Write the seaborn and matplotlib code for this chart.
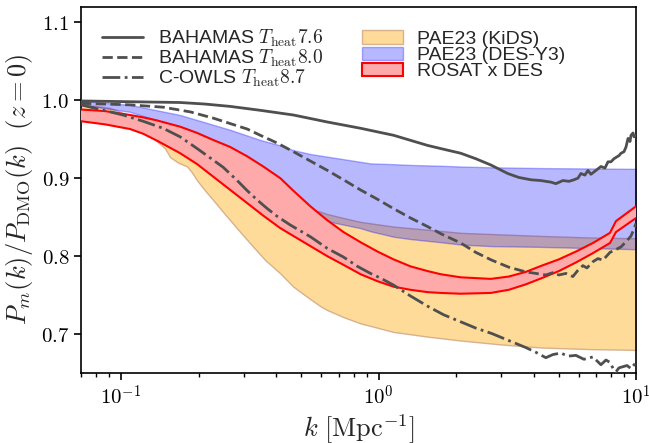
import numpy as np
import pandas as pd
import matplotlib
matplotlib.use("Agg")
import matplotlib.pyplot as plt
import seaborn as sns
from matplotlib.patches import Patch
from matplotlib.lines import Line2D
from matplotlib.ticker import FixedLocator, FixedFormatter, FuncFormatter, LogLocator, NullFormatter

# ---------------- data ----------------
# BAHAMAS T_heat 7.6 (solid)
k_b76 = [0.0699, 0.1084, 0.1697, 0.2122, 0.2655, 0.3474, 0.4669, 0.6331, 0.8511, 1.144,
         1.551, 1.743, 2.085, 2.385, 2.728, 3.177, 3.505, 3.904, 4.270, 4.670, 4.884,
         5.200, 5.487, 5.739, 5.947, 6.109, 6.331, 6.505, 6.682, 6.864, 7.114, 7.308,
         7.575, 7.783, 7.992, 8.212, 8.589, 8.745, 8.981, 9.144, 9.309, 9.478, 9.562,
         9.735, 9.822, 10.0]
p_b76 = [0.999, 0.998, 0.997, 0.995, 0.992, 0.987, 0.981, 0.972, 0.964, 0.955,
         0.942, 0.938, 0.932, 0.925, 0.917, 0.906, 0.901, 0.898, 0.897, 0.895, 0.893,
         0.897, 0.896, 0.898, 0.900, 0.906, 0.904, 0.910, 0.905, 0.908, 0.912, 0.915,
         0.913, 0.921, 0.921, 0.925, 0.929, 0.932, 0.934, 0.940, 0.951, 0.947, 0.955,
         0.958, 0.953, 0.955]

# BAHAMAS T_heat 8.0 (dashed)
k_b80 = [0.0699, 0.1084, 0.1457, 0.1856, 0.2280, 0.2655, 0.3092, 0.3474, 0.4045, 0.4669,
         0.5437, 0.6331, 0.7308, 0.8511, 0.9911, 1.144, 1.332, 1.551, 1.743, 2.085,
         2.385, 2.753, 3.205, 3.733, 4.082, 4.465, 4.753, 5.016, 5.341, 5.686, 5.947,
         6.219, 6.446, 6.803, 7.114, 7.437, 7.924, 8.285, 8.745, 9.226, 9.562, 9.822, 10.0]
p_b80 = [0.996, 0.994, 0.991, 0.985, 0.977, 0.970, 0.963, 0.955, 0.945, 0.934,
         0.922, 0.910, 0.898, 0.885, 0.873, 0.861, 0.849, 0.838, 0.829, 0.817,
         0.805, 0.795, 0.786, 0.780, 0.778, 0.776, 0.779, 0.776, 0.778, 0.774, 0.782,
         0.788, 0.785, 0.793, 0.797, 0.795, 0.805, 0.808, 0.812, 0.820, 0.826, 0.835, 0.842]

# C-OWLS T_heat 8.7 (dash-dot)
k_cow = [0.0699, 0.0829, 0.1018, 0.1218, 0.1457, 0.1697, 0.1975, 0.2220, 0.2493, 0.2827,
         0.3092, 0.3382, 0.3700, 0.4045, 0.4545, 0.5437, 0.6331, 0.7308, 0.8286, 0.9309,
         1.018, 1.144, 1.332, 1.551, 1.790, 2.085, 2.385, 2.753, 3.205, 3.733, 4.082,
         4.465, 4.753, 5.107, 5.437, 5.842, 6.276, 6.803, 7.308, 7.643, 7.924, 8.212,
         8.357, 8.589, 9.226, 9.562, 10.0]
p_cow = [0.994, 0.988, 0.981, 0.973, 0.964, 0.953, 0.938, 0.926, 0.914, 0.897,
         0.884, 0.872, 0.861, 0.851, 0.840, 0.825, 0.810, 0.799, 0.787, 0.778,
         0.772, 0.763, 0.749, 0.736, 0.725, 0.716, 0.708, 0.701, 0.692, 0.683, 0.677,
         0.670, 0.674, 0.676, 0.672, 0.673, 0.668, 0.671, 0.661, 0.667, 0.664, 0.654,
         0.652, 0.657, 0.660, 0.656, 0.664]

# PAE23 (KiDS) band
k_kids = [0.0699, 0.0906, 0.1186, 0.1381, 0.1483, 0.1551, 0.1666, 0.1806, 0.1889, 0.1975,
          0.2122, 0.2280, 0.2472, 0.2655, 0.2904, 0.3263, 0.3634, 0.4155, 0.4669, 0.5437,
          0.5946, 0.6331, 0.7308, 0.8511, 1.144, 1.332, 1.551, 2.085, 2.983, 4.308, 6.682, 10.0]
lo_kids = [0.985, 0.980, 0.968, 0.947, 0.938, 0.927, 0.920, 0.915, 0.907, 0.897,
           0.884, 0.872, 0.858, 0.846, 0.831, 0.812, 0.795, 0.778, 0.761, 0.745,
           0.736, 0.731, 0.722, 0.714, 0.703, 0.700, 0.697, 0.692, 0.687, 0.683, 0.681, 0.680]
hi_kids = [0.995, 0.990, 0.975, 0.966, 0.962, 0.958, 0.952, 0.946, 0.942, 0.936,
           0.928, 0.920, 0.912, 0.905, 0.893, 0.880, 0.876, 0.872, 0.866, 0.860,
           0.857, 0.854, 0.849, 0.844, 0.838, 0.836, 0.834, 0.830, 0.828, 0.826, 0.824, 0.823]

# PAE23 (DES-Y3) band
k_des = [0.0699, 0.1084, 0.1697, 0.2655, 0.3474, 0.4155, 0.4669, 0.5437, 0.6505, 0.8511,
         0.9309, 1.144, 1.332, 1.743, 2.085, 2.728, 4.270, 10.0]
lo_des = [0.994, 0.985, 0.965, 0.930, 0.900, 0.885, 0.875, 0.858, 0.844, 0.836,
          0.832, 0.825, 0.822, 0.818, 0.815, 0.813, 0.812, 0.809]
hi_des = [0.999, 0.994, 0.981, 0.962, 0.949, 0.942, 0.936, 0.931, 0.927, 0.921,
          0.919, 0.918, 0.917, 0.916, 0.915, 0.914, 0.913, 0.912]

# ROSAT x DES band
k_ros = [0.0699, 0.0866, 0.1084, 0.1218, 0.1381, 0.1697, 0.1975, 0.2280, 0.2655, 0.3092,
         0.3568, 0.4155, 0.4669, 0.5437, 0.6331, 0.7308, 0.8511, 0.9911, 1.144, 1.332,
         1.551, 1.743, 2.085, 2.728, 3.205, 3.733, 4.308, 5.016, 5.842, 6.803, 7.924,
         8.357, 10.0]
hi_ros = [0.988, 0.986, 0.981, 0.978, 0.974, 0.966, 0.958, 0.949, 0.940, 0.928,
          0.915, 0.900, 0.884, 0.864, 0.846, 0.831, 0.818, 0.806, 0.796, 0.787,
          0.781, 0.777, 0.773, 0.771, 0.774, 0.780, 0.788, 0.796, 0.806, 0.817, 0.830,
          0.845, 0.864]
lo_ros = [0.973, 0.969, 0.963, 0.957, 0.948, 0.932, 0.918, 0.902, 0.885, 0.868,
          0.852, 0.836, 0.826, 0.813, 0.800, 0.789, 0.777, 0.768, 0.761, 0.757,
          0.754, 0.753, 0.752, 0.753, 0.757, 0.764, 0.772, 0.781, 0.792, 0.804, 0.817,
          0.831, 0.849]

labels_lines = [r"BAHAMAS $T_{\rm heat}7.6$", r"BAHAMAS $T_{\rm heat}8.0$",
                r"C-OWLS $T_{\rm heat}8.7$"]
labels_bands = ["PAE23 (KiDS)", "PAE23 (DES-Y3)", "ROSAT x DES"]
yticks = [0.7, 0.8, 0.9, 1.0, 1.1]
xticks = [0.1, 1.0, 10.0]
xticklabels = [r"$10^{-1}$", r"$10^{0}$", r"$10^{1}$"]

# ---------------- style ----------------
sns.set_theme(style="ticks")
plt.rcParams["font.family"] = ["Liberation Sans", "DejaVu Sans"]
plt.rcParams["mathtext.fontset"] = "cm"
plt.rcParams["axes.edgecolor"] = "black"
plt.rcParams["axes.linewidth"] = 1.2
plt.rcParams["xtick.color"] = "black"
plt.rcParams["ytick.color"] = "black"

fig = plt.figure(figsize=(6.49, 4.43), dpi=100)
ax = fig.add_axes([0.1248, 0.1573, 0.980 - 0.1248, 0.9853 - 0.1573])

orange_face = (1.0, 0.647, 0.0, 0.4)
orange_edge = (0.78, 0.6, 0.45, 0.7)
blue_face = (0.0, 0.0, 1.0, 0.28)
blue_edge = (0.0, 0.0, 1.0, 0.3)
red_face = "#ffaaaa"
line_col = "#4f4f4f"

ax.fill_between(k_kids, lo_kids, hi_kids, facecolor=orange_face, edgecolor=orange_edge,
                linewidth=1.0, zorder=1)
ax.fill_between(k_des, lo_des, hi_des, facecolor=blue_face, edgecolor=blue_edge,
                linewidth=1.0, zorder=2)
ax.fill_between(k_ros, lo_ros, hi_ros, facecolor=red_face, edgecolor="none", zorder=3)
ax.plot(k_ros, lo_ros, color="red", lw=1.5, zorder=4)
ax.plot(k_ros, hi_ros, color="red", lw=1.5, zorder=4)

sns.lineplot(x=k_b76, y=p_b76, ax=ax, color=line_col, lw=2.0, linestyle="-", zorder=5,
             sort=False)
sns.lineplot(x=k_b80, y=p_b80, ax=ax, color=line_col, lw=2.0, linestyle="--", zorder=5,
             sort=False)
sns.lineplot(x=k_cow, y=p_cow, ax=ax, color=line_col, lw=2.0, linestyle="-.", zorder=5,
             sort=False)

ax.set_xscale("log")
ax.set_xlim(0.0699, 10.0)
ax.set_ylim(0.65, 1.12)

ax.xaxis.set_major_locator(FixedLocator(xticks))
ax.xaxis.set_major_formatter(FixedFormatter(xticklabels))
ax.xaxis.set_minor_locator(LogLocator(base=10, subs=np.arange(2, 10), numticks=20))
ax.xaxis.set_minor_formatter(NullFormatter())
ax.yaxis.set_major_locator(FixedLocator(yticks))
ax.yaxis.set_major_formatter(FuncFormatter(lambda v, p: r"$%.1f$" % v))
ax.tick_params(axis="both", which="major", labelsize=15, length=5, width=1.2, direction="out")
ax.tick_params(axis="both", which="minor", length=3, width=1.0, direction="out")

ax.set_xlabel(r"$k\ [\rm Mpc^{-1}]$", fontsize=19, labelpad=2)
ax.set_ylabel(r"$P_m(k)/P_{\rm DMO}(k)\ \ (z=0)$", fontsize=19)

handles = [
    Line2D([], [], color=line_col, lw=2.0, linestyle="-"),
    Line2D([], [], color=line_col, lw=2.0, linestyle="--"),
    Line2D([], [], color=line_col, lw=2.0, linestyle="-."),
    Patch(facecolor=orange_face, edgecolor=orange_edge, linewidth=1.0),
    Patch(facecolor=blue_face, edgecolor=blue_edge, linewidth=1.0),
    Patch(facecolor=red_face, edgecolor="red", linewidth=1.5),
]
ax.legend(handles, labels_lines + labels_bands, loc="upper left", ncol=2, frameon=False,
          fontsize=14, labelspacing=-0.07, handletextpad=0.75, columnspacing=2.0,
          handlelength=2.1, borderaxespad=0.7)

fig.savefig("out.png", dpi=100)
